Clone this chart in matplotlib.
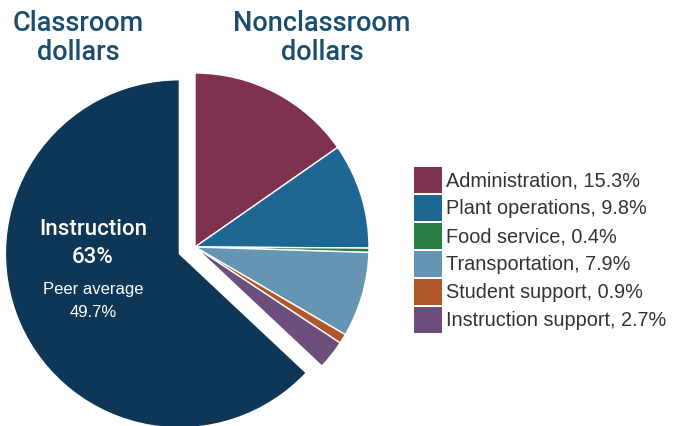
import matplotlib
matplotlib.use("Agg")
import matplotlib.pyplot as plt
from matplotlib.patches import Rectangle

categories = ["Administration", "Plant operations", "Food service",
              "Transportation", "Student support", "Instruction support",
              "Instruction"]
values = [15.3, 9.8, 0.4, 7.9, 0.9, 2.7, 63.0]
colors = ["#7E3250", "#1D6792", "#2A7E43", "#6595B3", "#B0572A", "#6C4F7D", "#0E3657"]
peer_average = 49.7

W, H = 674, 427
fig = plt.figure(figsize=(W / 100, H / 100), dpi=100)
ax = fig.add_axes([0, 0, 1, 1])

def py(y):
    return H - y

explode = [0, 0, 0, 0, 0, 0, 17]
ax.pie(values, colors=colors, startangle=90, counterclock=False,
       center=(195, py(248)), radius=174, explode=explode,
       wedgeprops=dict(edgecolor="white", linewidth=1.0), frame=True)
ax.set_xlim(0, W)
ax.set_ylim(0, H)
ax.set_aspect("equal")
ax.axis("off")

FAM = ["Liberation Sans", "DejaVu Sans"]
MED = ["Roboto", "DejaVu Sans"]
title_color = "#1B4D6E"
tfont = dict(family=MED, fontsize=19.5, fontweight="medium",
             color=title_color, ha="center", va="baseline")
ax.text(78, py(31), "Classroom", **tfont)
ax.text(78, py(60), "dollars", **tfont)
ax.text(322, py(31), "Nonclassroom", **tfont)
ax.text(322, py(60), "dollars", **tfont)

# Instruction label
ax.text(93, py(235), categories[-1], family=MED, fontsize=16,
        fontweight="medium", color="white", ha="center", va="baseline")
ax.text(93, py(263), f"{values[-1]:.0f}%", family=MED, fontsize=16,
        fontweight="medium", color="white", ha="center", va="baseline")
ax.text(93, py(294), "Peer average", family=FAM, fontsize=12,
        fontweight="normal", color="white", ha="center", va="baseline")
ax.text(93, py(317), f"{peer_average}%", family=FAM, fontsize=12,
        fontweight="normal", color="white", ha="center", va="baseline")

# Legend
top = 168
pitch = 28
for i, (cat, val, col) in enumerate(zip(categories[:-1], values[:-1], colors[:-1])):
    y0 = top + i * pitch
    ax.add_patch(Rectangle((414, py(y0 + 26)), 28, 26, facecolor=col, edgecolor="none"))
    ax.text(446, py(y0 + 13), f"{cat}, {val}%", family=FAM,
            fontsize=14.3, fontweight="normal", color="#333333", ha="left", va="center")

fig.savefig("out.png", dpi=100)
